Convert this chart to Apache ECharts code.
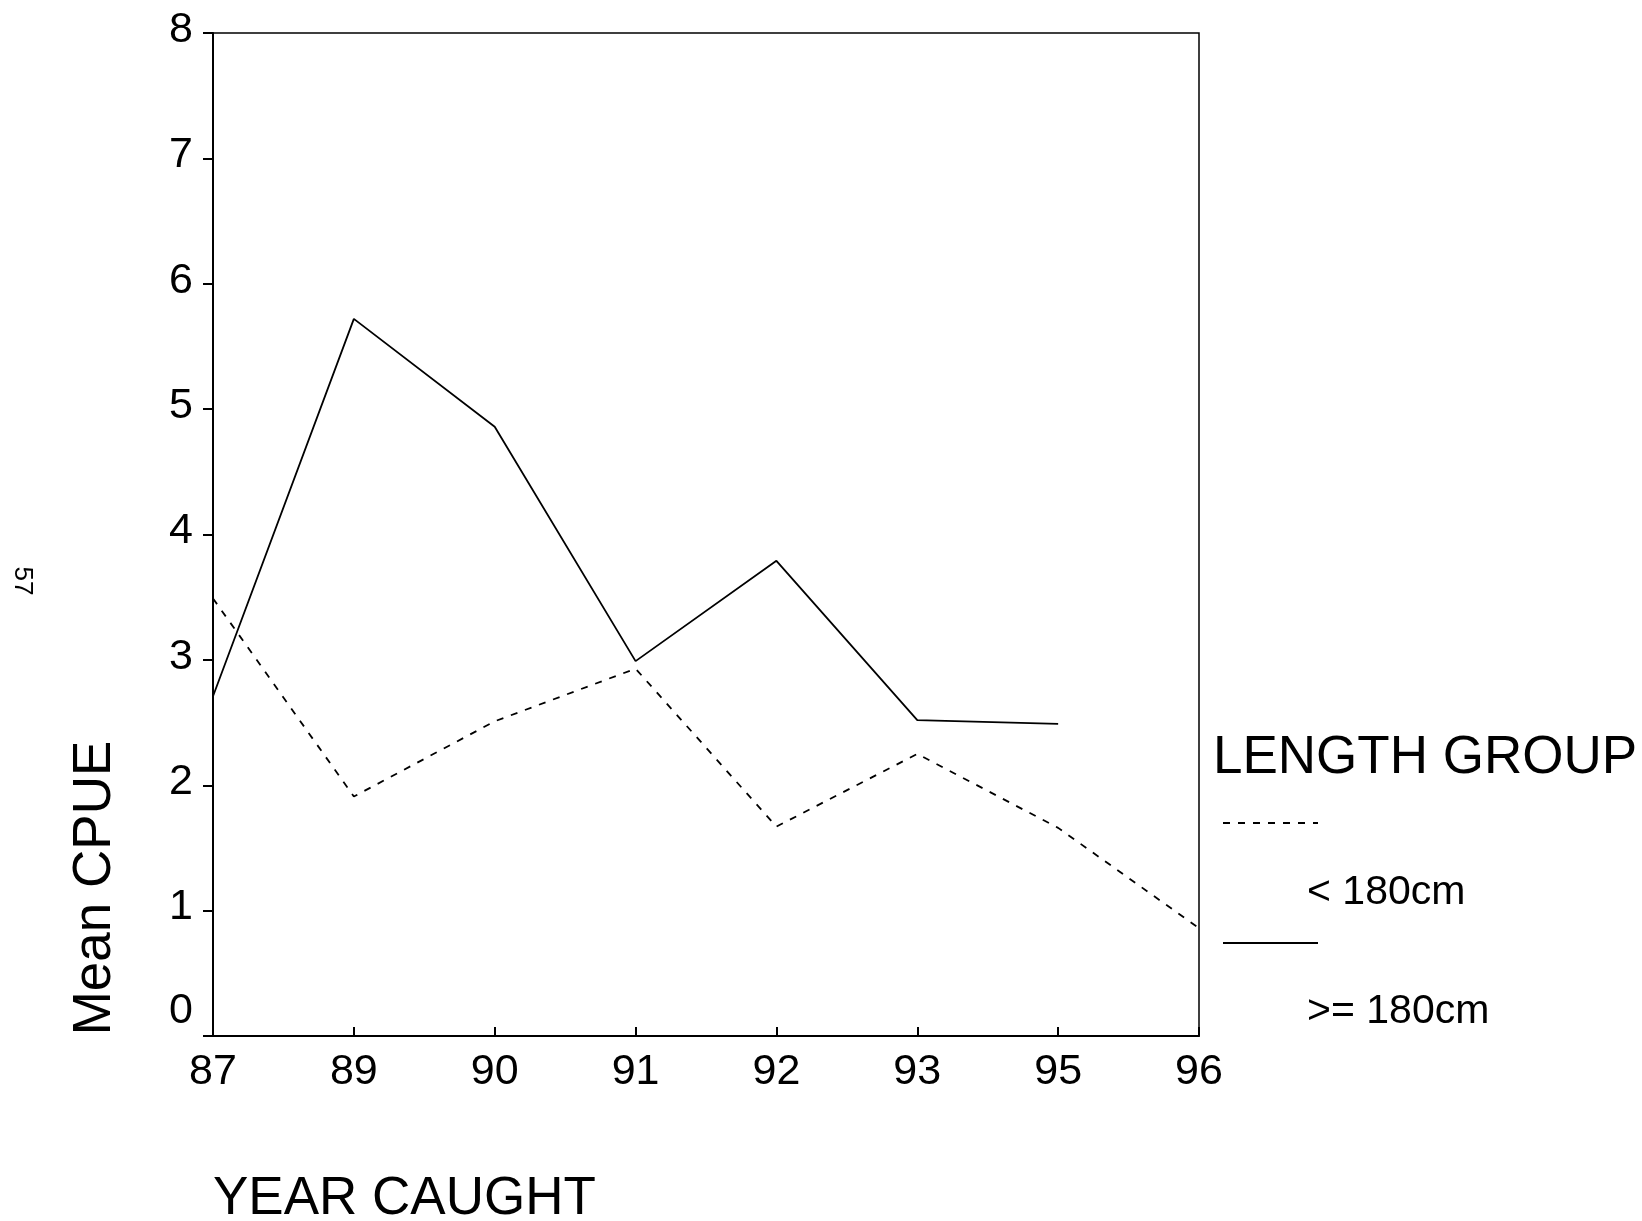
<!DOCTYPE html>
<html>
<head>
<meta charset="utf-8">
<script src="https://cdn.jsdelivr.net/npm/echarts@6/dist/echarts.min.js"></script>
<style>
    html, body {margin: 0; padding: 0; background: #fff;}
    #chart {width: 1642px; height: 1221px;}
</style>
</head>
<body>
<div id="chart"></div>
<script>
    const years = ['87', '89', '90', '91', '92', '93', '95', '96'];
    const under180 = [3.49, 1.91, 2.51, 2.93, 1.67, 2.25, 1.66, 0.86];
    const over180 = [2.71, 5.72, 4.86, 2.99, 3.79, 2.52, 2.49, null];
    const yTicks = [0, 1, 2, 3, 4, 5, 6, 7, 8];

    const FONT = '"Liberation Sans", Arial, sans-serif';
    const chart = echarts.init(document.getElementById('chart'));

    chart.setOption({
        animation: false,
        backgroundColor: '#fff',
        grid: {
            left: 213, top: 33, right: 443, bottom: 185,
            show: true, borderColor: '#000', borderWidth: 1.5
        },
        xAxis: {
            type: 'category', boundaryGap: false, data: years,
            axisLine: {lineStyle: {color: '#000', width: 2}},
            axisTick: {inside: true, length: 9, alignWithLabel: true, lineStyle: {color: '#000', width: 2}},
            axisLabel: {color: '#000', fontSize: 43, fontFamily: FONT, margin: 15},
            splitLine: {show: false}
        },
        yAxis: {
            type: 'value', min: yTicks[0], max: yTicks[yTicks.length - 1], interval: 1,
            axisLine: {show: true, lineStyle: {color: '#000', width: 2}},
            axisTick: {show: true, length: 10, lineStyle: {color: '#000', width: 2}},
            axisLabel: {
                color: '#000', fontSize: 43, fontFamily: FONT, margin: 20,
                formatter: v => v === 0 ? '{z|0}' : '{n|' + v + '}',
                rich: {
                    z: {fontSize: 43, fontFamily: FONT, color: '#000', padding: [0, 0, 50, 0]},
                    n: {fontSize: 43, fontFamily: FONT, color: '#000', padding: [0, 0, 6, 0]}
                }
            },
            splitLine: {show: false}
        },
        series: [
            {
                name: '< 180cm', type: 'line', data: under180, showSymbol: false,
                lineStyle: {color: '#000', width: 1.8, type: [7, 8]}
            },
            {
                name: '>= 180cm', type: 'line', data: over180, showSymbol: false,
                lineStyle: {color: '#000', width: 1.8}
            }
        ],
        graphic: [
            // axis titles
            {
                type: 'text', x: 95, y: 888, rotation: Math.PI / 2,
                style: {text: 'Mean CPUE', font: '53px ' + FONT, fill: '#000', align: 'center', verticalAlign: 'middle'}
            },
            {
                type: 'text', x: 213, y: 1199,
                style: {text: 'YEAR CAUGHT', font: '53px ' + FONT, fill: '#000', align: 'left', verticalAlign: 'middle'}
            },
            // page number
            {
                type: 'text', x: 22, y: 581, rotation: -Math.PI / 2,
                style: {text: '57', font: '26px ' + FONT, fill: '#000', align: 'center', verticalAlign: 'middle'}
            },
            // legend
            {
                type: 'text', x: 1213, y: 758,
                style: {text: 'LENGTH GROUP', font: '53px ' + FONT, fill: '#000', align: 'left', verticalAlign: 'middle'}
            },
            {
                type: 'line', shape: {x1: 1223, y1: 823, x2: 1318, y2: 823},
                style: {stroke: '#000', lineWidth: 1.8, lineDash: [7, 8]}
            },
            {
                type: 'text', x: 1307, y: 893,
                style: {text: '< 180cm', font: '41px ' + FONT, fill: '#000', align: 'left', verticalAlign: 'middle'}
            },
            {
                type: 'line', shape: {x1: 1223, y1: 943, x2: 1318, y2: 943},
                style: {stroke: '#000', lineWidth: 1.8}
            },
            {
                type: 'text', x: 1307, y: 1012,
                style: {text: '>= 180cm', font: '41px ' + FONT, fill: '#000', align: 'left', verticalAlign: 'middle'}
            }
        ]
    });
</script>
</body>
</html>
